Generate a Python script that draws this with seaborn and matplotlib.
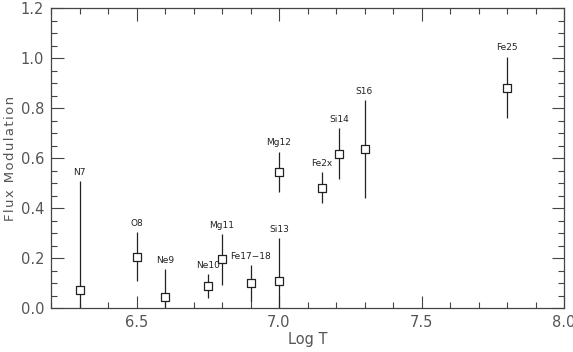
import numpy as np
import pandas as pd
import matplotlib
matplotlib.use('Agg')
import matplotlib.pyplot as plt
from matplotlib.ticker import MultipleLocator
import seaborn as sns

# line ids and values
ions = ['N7', 'O8', 'Ne9', 'Ne10', 'Mg11', 'Fe17\u221218', 'Si13', 'Mg12', 'Fe2x', 'Si14', 'S16', 'Fe25']
log_t = [6.3, 6.5, 6.6, 6.75, 6.8, 6.9, 7.0, 7.0, 7.15, 7.21, 7.3, 7.8]
flux = [0.073, 0.206, 0.047, 0.089, 0.197, 0.100, 0.109, 0.547, 0.483, 0.617, 0.637, 0.883]
err_lo = [0.44, 0.097, 0.11, 0.047, 0.102, 0.073, 0.17, 0.08, 0.063, 0.101, 0.194, 0.123]
err_hi = [0.437, 0.098, 0.11, 0.047, 0.100, 0.073, 0.171, 0.08, 0.061, 0.103, 0.196, 0.124]

df = pd.DataFrame({'logT': log_t, 'flux': flux, 'lo': err_lo, 'hi': err_hi, 'ion': ions})

sns.set_style('ticks')
plt.rcParams['font.family'] = ['DejaVu Sans']
grey = '#444444'

fig = plt.figure(figsize=(5.73, 3.52), dpi=100)
ax = fig.add_axes([51 / 573, 43.7 / 352, 513 / 573, 300 / 352])

ax.errorbar(df.logT, df.flux, yerr=[df.lo, df.hi], fmt='none', ecolor='#222222', elinewidth=0.9, capsize=0)
sns.scatterplot(data=df, x='logT', y='flux', marker='s', s=40, facecolor='white',
                edgecolor='#222222', linewidth=0.9, ax=ax, zorder=3)

for _, r in df.iterrows():
    ax.annotate(r.ion, (r.logT, r.flux + r.hi), xytext=(0, 3), textcoords='offset points',
                ha='center', va='bottom', fontsize=6.5, color='#222222')

ax.set_xlim(6.2, 8.0)
ax.set_ylim(0, 1.2)
ax.xaxis.set_minor_locator(MultipleLocator(0.1))
ax.yaxis.set_major_locator(MultipleLocator(0.2))
ax.yaxis.set_minor_locator(MultipleLocator(0.05))
ax.set_xticks([6.5, 7.0, 7.5, 8.0])
ax.set_xticklabels(['6.5', '7.0', '7.5', '8.0'])
ax.tick_params(which='both', direction='in', top=True, right=True, color=grey, width=0.8,
               labelsize=10.5, labelcolor='#555555', pad=5)
ax.tick_params(which='major', length=9)
ax.tick_params(which='minor', length=4.5)
for s in ax.spines.values():
    s.set_color(grey)
    s.set_linewidth(0.9)

ax.set_xlabel('Log T', fontsize=10.5, color='#555555', labelpad=1)
ax.set_ylabel('\u200a'.join('Flux Modulation'), fontsize=9.5, color='#555555')
ax.yaxis.set_label_coords(-0.066, 0.5)

fig.savefig('out.png', dpi=100)
